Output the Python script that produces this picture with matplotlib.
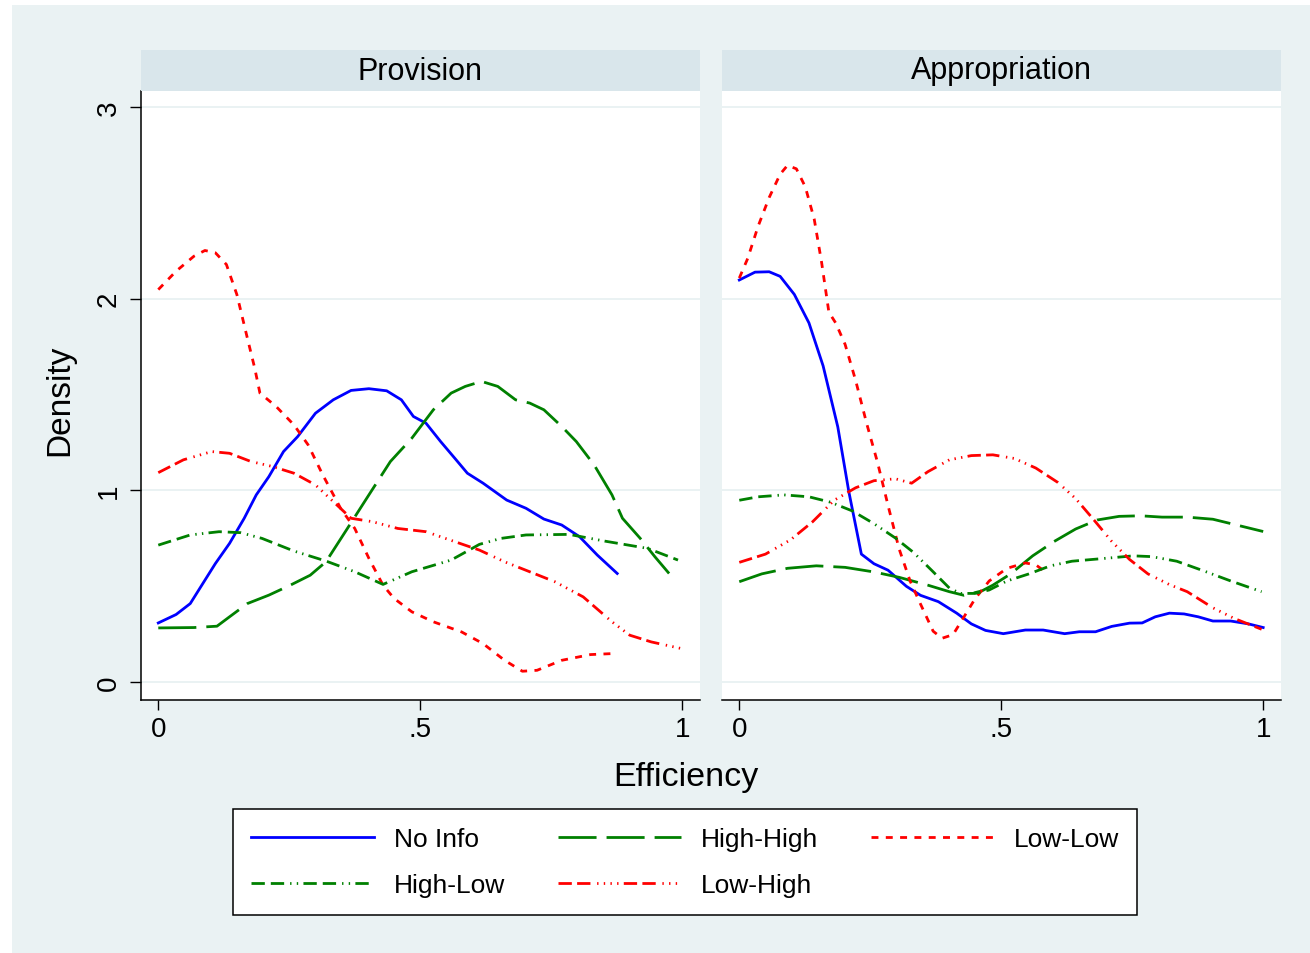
import matplotlib
matplotlib.use("Agg")
import matplotlib.pyplot as plt
from matplotlib.patches import Rectangle

plt.rcParams['font.family'] = ['Liberation Sans', 'DejaVu Sans']
plt.rcParams['lines.scale_dashes'] = False

# ---- data (x = efficiency, y = density) ----
# Provision panel
prov_noinfo_x = [0, .034, .061, .089, .109, .136, .164, .187, .211, .239, .266, .300, .334, .368, .402,
                 .436, .464, .487, .511, .539, .566, .590, .620, .665, .702, .736, .770, .804, .838, .876]
prov_noinfo_y = [.308, .352, .409, .531, .618, .723, .854, .976, 1.071, 1.202, 1.28, 1.402, 1.472, 1.521, 1.530,
                 1.519, 1.472, 1.385, 1.350, 1.254, 1.167, 1.089, 1.037, .949, .906, .850, .819, .758, .662, .566]

prov_hh_x = [0, .068, .112, .136, .170, .211, .252, .290, .320, .361, .402, .443, .484, .525, .559, .586,
             .617, .648, .682, .709, .736, .770, .798, .832, .866, .886, .920, .948, .975]
prov_hh_y = [.282, .284, .291, .340, .409, .453, .505, .557, .627, .801, .976, 1.150, 1.272, 1.42, 1.507, 1.542,
             1.568, 1.542, 1.472, 1.455, 1.42, 1.333, 1.254, 1.132, .976, .854, .749, .653, .566]

prov_ll_x = [0, .034, .068, .089, .109, .130, .150, .170, .184, .194, .225, .259, .286, .314, .348, .375,
             .402, .429, .450, .484, .525, .579, .620, .661, .695, .723, .770, .825, .866]
prov_ll_y = [2.047, 2.143, 2.221, 2.251, 2.239, 2.178, 2.021, 1.794, 1.638, 1.507, 1.437, 1.341, 1.237, 1.080,
             .906, .801, .645, .505, .436, .366, .314, .261, .200, .113, .056, .061, .113, .143, .148]

prov_hl_x = [0, .061, .116, .157, .198, .259, .320, .375, .429, .484, .559, .613, .654, .702, .784, .852, .934, .992]
prov_hl_y = [.714, .767, .784, .779, .749, .683, .631, .575, .509, .575, .636, .718, .749, .767, .770, .735, .697, .636]

prov_lh_x = [0, .048, .102, .136, .177, .218, .259, .300, .334, .368, .409, .457, .511, .566, .613, .661,
             .709, .757, .811, .866, .900, .941, .999]
prov_lh_y = [1.092, 1.159, 1.202, 1.193, 1.150, 1.124, 1.089, 1.028, .941, .854, .836, .801, .784, .732, .688,
             .627, .575, .523, .444, .314, .244, .209, .174]

# Appropriation panel
appr_noinfo_x = [0, .030, .057, .078, .105, .133, .160, .188, .209, .233, .257, .284, .319, .346, .380, .415,
                 .443, .470, .504, .546, .580, .621, .649, .680, .711, .745, .769, .794, .821, .849, .876,
                 .904, .938, .972, 1.0]
appr_noinfo_y = [2.097, 2.138, 2.140, 2.116, 2.022, 1.873, 1.649, 1.331, .994, .667, .617, .583, .499, .452,
                 .419, .359, .303, .269, .252, .271, .271, .252, .262, .262, .290, .307, .308, .340, .359,
                 .355, .340, .318, .318, .303, .284]

appr_hh_x = [0, .043, .092, .147, .202, .257, .305, .360, .401, .429, .463, .484, .518, .560, .601, .642,
             .683, .725, .766, .807, .855, .904, .952, 1.0]
appr_hh_y = [.523, .564, .593, .606, .598, .574, .546, .505, .471, .452, .475, .505, .564, .658, .733, .798,
             .845, .864, .867, .860, .860, .849, .817, .785]

appr_ll_x = [0, .016, .036, .057, .078, .092, .109, .126, .143, .157, .171, .184, .202, .222, .243, .264,
             .284, .305, .326, .346, .370, .387, .408, .429, .450, .477, .511, .546, .566, .580]
appr_ll_y = [2.107, 2.209, 2.378, 2.527, 2.649, 2.695, 2.677, 2.583, 2.415, 2.191, 1.929, 1.873, 1.761, 1.574,
             1.350, 1.144, .920, .695, .527, .406, .265, .228, .247, .340, .434, .527, .593, .621, .611, .583]

appr_hl_x = [0, .036, .085, .133, .174, .216, .257, .298, .332, .367, .401, .422, .450, .477, .511, .553,
             .594, .635, .690, .752, .787, .835, .883, .938, .997]
appr_hl_y = [.948, .966, .976, .966, .938, .892, .826, .751, .677, .583, .490, .462, .462, .480, .527, .564,
             .606, .630, .643, .658, .654, .630, .583, .527, .471]

appr_lh_x = [0, .050, .098, .140, .181, .222, .257, .298, .329, .360, .401, .443, .484, .525, .566, .608,
             .642, .677, .711, .745, .780, .821, .855, .904, .945, .997]
appr_lh_y = [.624, .667, .742, .836, .948, 1.013, 1.050, 1.060, 1.037, 1.097, 1.159, 1.181, 1.185, 1.166,
             1.116, 1.041, .957, .845, .733, .639, .564, .508, .471, .387, .331, .275]

panel_titles = ["Provision", "Appropriation"]
series_names = ["No Info", "High-High", "Low-Low", "High-Low", "Low-High"]
x_ticks = [0, .5, 1]
x_ticklabels = ["0", ".5", "1"]
y_ticks = [0, 1, 2, 3]

# ---- styles ----
bg = "#EAF2F3"
strip = "#D9E6EB"
lw = 2.0
styles = {
    "No Info": dict(color="#0000FF", linestyle="-"),
    "High-High": dict(color="#008000", linestyle=(0, (27.4, 7.2))),
    "Low-Low": dict(color="#FF0000", linestyle=(0, (5.0, 5.3))),
    "High-Low": dict(color="#008000", linestyle=(0, (9.6, 4.3, 9.6, 4.3, 1.0, 3.8, 1.0, 3.8))),
    "Low-High": dict(color="#FF0000", linestyle=(0, (9.6, 3.8, 9.6, 4.8, 1.0, 3.8, 1.0, 3.8, 1.0, 3.8, 1.0, 3.8))),
}

W, H = 1310, 954
fig = plt.figure(figsize=(W / 100, H / 100), dpi=100, facecolor="white")
fig.patches.append(Rectangle((12 / W, 0), 1, 1 - 6 / H, transform=fig.transFigure,
                             facecolor=bg, edgecolor="none", zorder=-10))

def fx(px):
    return px / W

def fy(py):
    return 1 - py / H

panels = [
    (141, [(prov_noinfo_x, prov_noinfo_y), (prov_hh_x, prov_hh_y), (prov_ll_x, prov_ll_y),
           (prov_hl_x, prov_hl_y), (prov_lh_x, prov_lh_y)]),
    (722, [(appr_noinfo_x, appr_noinfo_y), (appr_hh_x, appr_hh_y), (appr_ll_x, appr_ll_y),
           (appr_hl_x, appr_hl_y), (appr_lh_x, appr_lh_y)]),
]
pw = 559
top, bottom = 92, 701

handles = {}
for i, (left, data) in enumerate(panels):
    ax = fig.add_axes([fx(left), fy(bottom), pw / W, (bottom - top) / H])
    ax.set_facecolor("white")
    for yv in y_ticks:
        ax.axhline(yv, color=bg, lw=1.4, zorder=0)
    for name, (xs, ys) in zip(series_names, data):
        ln, = ax.plot(xs, ys, lw=lw, label=name, **styles[name])
        handles[name] = ln
    ax.set_xlim(-0.033, 1.034)
    ax.set_ylim(-0.094, 3.083)
    ax.set_xticks(x_ticks)
    ax.set_xticklabels(x_ticklabels)
    ax.tick_params(axis="x", direction="out", length=7.5, width=1.0, labelsize=20, pad=4)
    for s in ["top", "right"]:
        ax.spines[s].set_visible(False)
    ax.spines["bottom"].set_linewidth(1.1)
    if i == 0:
        ax.spines["left"].set_linewidth(1.1)
        ax.set_yticks(y_ticks)
        ax.set_yticklabels([str(v) for v in y_ticks], rotation=90, va="center")
        ax.tick_params(axis="y", direction="out", length=8, width=1.0, labelsize=20, pad=6)
    else:
        ax.spines["left"].set_visible(False)
        ax.set_yticks([])

    sax = fig.add_axes([fx(left), fy(top), pw / W, 41 / H])
    sax.set_facecolor(strip)
    sax.set_xticks([])
    sax.set_yticks([])
    for s in sax.spines.values():
        s.set_visible(False)
    sax.text(0.5, 0.5, panel_titles[i], ha="center", va="center", fontsize=22, transform=sax.transAxes)

fig.text(fx(686), fy(778), "Efficiency", ha="center", va="center", fontsize=24.5)
fig.text(fx(60), fy(400), "Density", ha="center", va="center", rotation=90, fontsize=24)

order = ["No Info", "High-Low", "High-High", "Low-High", "Low-Low"]
leg = fig.legend([handles[n] for n in order], order, ncol=3, loc="center",
                 bbox_to_anchor=(fx(685), fy(863)), fontsize=19, frameon=True, fancybox=False,
                 handlelength=4.66, handletextpad=0.76, columnspacing=2.0, labelspacing=0.85,
                 borderpad=0.66, borderaxespad=0)
leg.get_frame().set_edgecolor("black")
leg.get_frame().set_linewidth(1.1)
leg.get_frame().set_facecolor("white")
leg.get_frame().set_alpha(1)

fig.savefig("out.png", dpi=100, facecolor=fig.get_facecolor())
